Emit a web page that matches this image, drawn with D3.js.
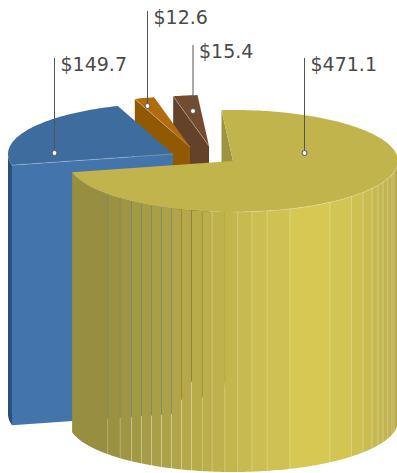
<!DOCTYPE html>
<html>
<head>
<meta charset="utf-8">
<script src="https://cdn.jsdelivr.net/npm/d3@7"></script>
<style>
  html, body { margin: 0; padding: 0; background: #fff; }
  svg { display: block; }
  text { font-family: "DejaVu Sans", sans-serif; font-size: 19px; fill: #4a4a4a; }
</style>
</head>
<body>
<svg id="chart" width="397" height="473"></svg>
<script>
// Slice values, in pie order (clockwise from just left of the back of the pie)
const values = [471.1, 149.7, 12.6, 15.4];
const labels = ["$471.1", "$149.7", "$12.6", "$15.4"];

// Face colours per slice
const topColors  = ["#c2b44c", "#3e6c9f", "#b36b0e", "#744c2d"];
const cutColors  = ["#9e9440", "#4374ac", "#925903", "#64422a"];
const wallColors = ["#c2b44c", "#2a4f7e", "#7a4a03", "#54371f"];

// Exploded position of each slice's apex
const apexX = [233, 173, 190, 209];
const apexY = [161, 154, 147, 146];

// Leader-line anchor relative to the slice apex, and leader length
const anchorDX = [71.5, -118.5, -42.5, -16];
const anchorDY = [-8, -1, -41, -35];
const leaderLen = [95, 95, 95, 66];

// Facet seams on the large slice's outer wall, degrees from the front of the pie
const wallSeams = [-49.3, -43.2, -38, -33.7, -29.6, -25.7, -21.9, -18.2, -14.6, -10.8, -7.3, -2.8,
                   1.7, 6.6, 11.9, 20.2, 36, 46.1, 52, 57.4, 61.5, 65.4, 69.9, 74.5, 77.4];

// Wall shading across the same front-relative angle
const shadeStops  = [-78, -49, -30, -11, 7, 25, 40, 58, 78, 90];
const shadeColors = ["#968d3e", "#988f40", "#a79d45", "#b9ad4a", "#cabc50", "#d6c853", "#d4c652", "#c8ba50", "#bcae4c", "#b5a94a"];

const rx = 165, ry = 51, depth = 260;
const seamInset = 0.14;
const rad = d3.scaleLinear().domain([0, 360]).range([0, 2 * Math.PI]);
const startDeg = -4;

const pie = d3.pie().sort(null).value(d => d)
  .startAngle(rad(startDeg)).endAngle(rad(startDeg + 360));
const slices = pie(values).map((s, i) => ({
  ...s, i, a0: s.startAngle, a1: s.endAngle, cx: apexX[i], cy: apexY[i]
}));

const svg = d3.select("#chart");
const line = d3.line();
const px = (s, a) => s.cx + rx * Math.sin(a);
const py = (s, a) => s.cy - ry * Math.cos(a);

// Angles between a0 and a1, fine enough for a smooth rim
function sweep(a0, a1) {
  const n = Math.max(2, Math.ceil(Math.abs(a1 - a0) / rad(1)));
  return d3.range(n + 1).map(k => a0 + (a1 - a0) * k / n);
}
function topPath(s) {
  const rim = sweep(s.a0, s.a1).map(a => [px(s, a), py(s, a)]);
  return line([[s.cx, s.cy], ...rim]) + "Z";
}
// Radial cut face along a slice edge, extruded downward
function cutPath(s, a) {
  return line([[s.cx, s.cy], [px(s, a), py(s, a)], [px(s, a), py(s, a) + depth], [s.cx, s.cy + depth]]) + "Z";
}
// Outer wall between two angles, trimmed horizontally by a small inset
function wallPath(s, a0, a1, inset) {
  const lo = Math.min(px(s, a0), px(s, a1)) + inset;
  const hi = Math.max(px(s, a0), px(s, a1)) - inset;
  const pts = sweep(a0, a1).map(a => [Math.min(Math.max(px(s, a), lo), hi), py(s, a)]);
  return line([...pts, ...pts.slice().reverse().map(p => [p[0], p[1] + depth])]) + "Z";
}
function radialEdge(s, a, opacity) {
  svg.append("path")
    .attr("d", line([[s.cx, s.cy], [px(s, a), py(s, a)]]))
    .attr("stroke", "#fff").attr("stroke-opacity", opacity).attr("fill", "none");
}

const [gold, blue, orange, brown] = slices;

// Back slices are painted first so the front ones overlap them
for (const s of [brown, orange]) {
  svg.append("path").attr("d", cutPath(s, s.a0)).attr("fill", cutColors[s.i]);
}

// Blue slice: short stretch of outer wall at the far left, then its long cut face
svg.append("path").attr("d", wallPath(blue, blue.a0, rad(270), 0)).attr("fill", wallColors[1]);
svg.append("path").attr("d", cutPath(blue, blue.a0)).attr("fill", cutColors[1]);

// Top faces of the back slices, with a pale highlight on the radial edge
for (const s of [brown, orange, blue]) {
  svg.append("path").attr("d", topPath(s)).attr("fill", topColors[s.i]);
}
radialEdge(orange, orange.a0, 0.28);
radialEdge(brown, brown.a0, 0.28);
radialEdge(blue, blue.a0, 0.25);

// Large slice: inner cut face, then its faceted wall, then the top
svg.append("path").attr("d", cutPath(gold, gold.a0)).attr("fill", cutColors[0]);

const shade = d3.scaleLinear().domain(shadeStops).range(shadeColors).interpolate(d3.interpolateRgb);
const leftEnd = 180 - gold.a1 * 180 / Math.PI;
d3.pairs([leftEnd, ...wallSeams, 90]).forEach(([d0, d1]) => {
  // The narrow inset leaves hairline seams through which the slices behind show
  svg.append("path")
    .attr("d", wallPath(gold, rad(180 - d1), rad(180 - d0), seamInset))
    .attr("fill", shade((d0 + d1) / 2));
});

svg.append("path").attr("d", topPath(gold)).attr("fill", topColors[0]);
svg.append("path")
  .attr("d", line(sweep(rad(20), rad(180)).map(a => [px(gold, a), py(gold, a)])))
  .attr("fill", "none").attr("stroke", "#fff").attr("stroke-opacity", 0.22);

// Leaders and value labels
slices.forEach((s, i) => {
  const ax = s.cx + anchorDX[i], ay = s.cy + anchorDY[i];
  svg.append("line")
    .attr("x1", ax).attr("x2", ax).attr("y1", ay).attr("y2", ay - leaderLen[i])
    .attr("stroke", "#555").attr("stroke-width", 1);
  svg.append("circle")
    .attr("cx", ax).attr("cy", ay).attr("r", 2.5)
    .attr("fill", "#fff").attr("stroke", "#555").attr("stroke-width", 1);
  svg.append("text")
    .attr("x", ax + 6).attr("y", ay - leaderLen[i] + 13)
    .text(labels[i]);
});
</script>
</body>
</html>
